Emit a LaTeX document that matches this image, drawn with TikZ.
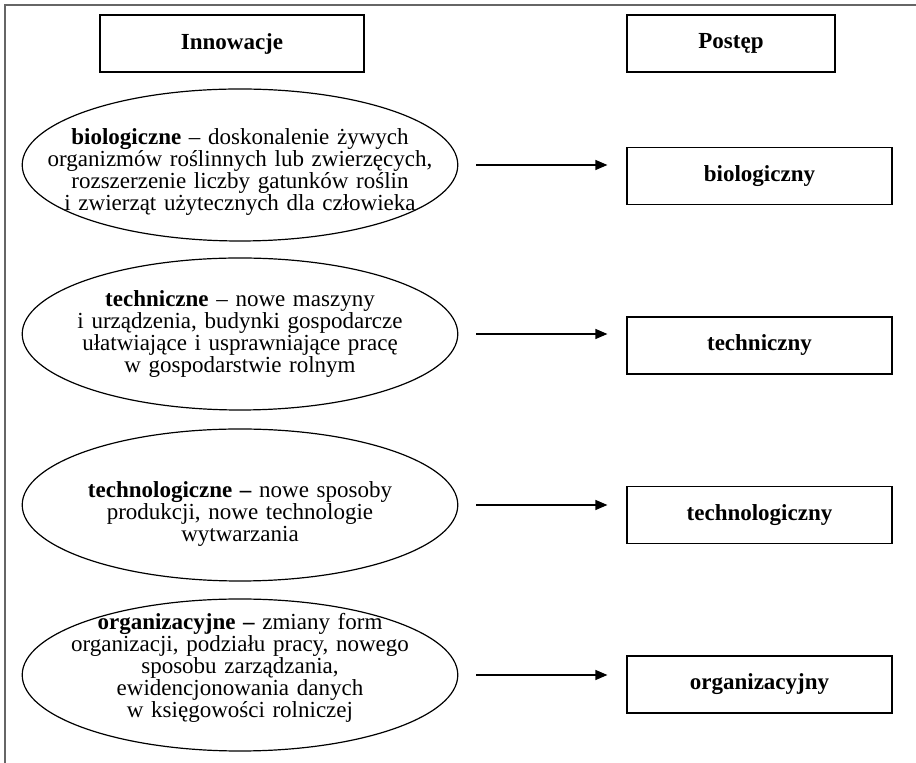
\documentclass[tikz,border=0pt]{standalone}
\usepackage{fontspec}
\setmainfont{Liberation Serif}
\usetikzlibrary{shapes,arrows.meta,positioning}

\begin{document}
\begin{tikzpicture}[x=0.5pt,y=-0.5pt]

\tikzset{innow/.style = {shape=ellipse,draw,line width=0.6pt,text width=200pt,align=center,inner xsep=-23pt,inner ysep=-8pt,minimum width=217.5pt,minimum height=76pt,font=\fontsize{11.5}{11}\selectfont}}
\tikzset{post/.style = {shape=rectangle,draw,line width=0.6pt,minimum width=132.5pt,minimum height=28.5pt,font=\fontsize{11.5}{11}\selectfont\bfseries}}
\tikzset{edge1/.style = {-{Triangle[length=6pt,width=5pt]},line width=0.6pt,shorten <=9pt,shorten >=9.5pt}}

\useasboundingbox (0,0) rectangle (916,763);
% frame
\draw[black!60,line width=0.6pt] (5,5) rectangle (940,790);

% headers
\node[post,minimum width=132pt] (inn) at (232,43.5) {Innowacje};
\node[post,minimum width=104pt] (pos) at (731,43.5) {Postęp};

% innovations
\node[innow] (bio) at (240,165) {\rule{0pt}{15pt}\textbf{biologiczne} – doskonalenie żywych organizmów roślinnych lub zwierzęcych, rozszerzenie liczby gatunków roślin\\ i zwierząt użytecznych dla człowieka};
\node[innow] (tech) at (240,334) {\textbf{techniczne} – nowe maszyny\\ i urządzenia, budynki gospodarcze ułatwiające i usprawniające pracę\\ w gospodarstwie rolnym};
\node[innow] (tgy) at (240,505) {\rule{0pt}{17pt}\textbf{technologiczne –} nowe sposoby\\ produkcji, nowe technologie\\ wytwarzania};
\node[innow] (org) at (240,675) {\textbf{organizacyjne –} zmiany form\\ organizacji, podziału pracy, nowego\\ sposobu zarządzania,\\ ewidencjonowania danych\\ w księgowości rolniczej\rule[-10pt]{0pt}{0pt}};

% progress
\node[post] (biop) at (759.5,176) {biologiczny};
\node[post] (techp) at (759.5,345.5) {techniczny};
\node[post] (tgyp) at (759.5,515) {technologiczny};
\node[post] (orgp) at (759.5,684.5) {organizacyjny};

%edges
\draw[edge1] (bio.east) -- (bio.east -| biop.west);
\draw[edge1] (tech.east) -- (tech.east -| techp.west);
\draw[edge1] (tgy.east) -- (tgy.east -| tgyp.west);
\draw[edge1] (org.east) -- (org.east -| orgp.west);

\end{tikzpicture}
\end{document}
